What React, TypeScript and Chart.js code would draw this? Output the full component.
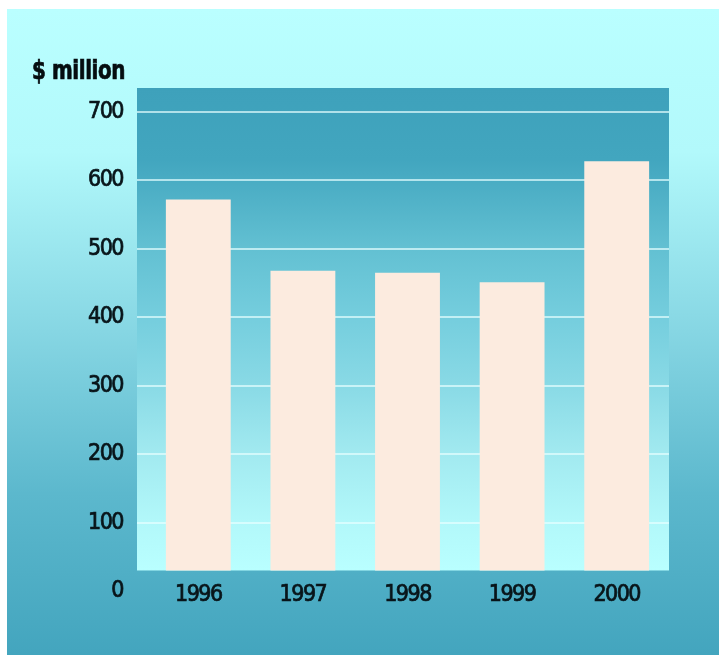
import React, { useEffect, useRef } from 'react';
import { Chart, registerables } from 'chart.js';

Chart.register(...registerables);

const years = ['1996', '1997', '1998', '1999', '2000'];
const revenue = [572, 468, 465, 451, 628];
const yTickValues = [0, 100, 200, 300, 400, 500, 600, 700];
const yMax = 735;
const plotFloor = 30;
const unitLabel = '$ million';

const FONT = '"DejaVu Sans Condensed", "Liberation Sans", sans-serif';
const TEXT = '#081419';

const backdropPlugin = {
  id: 'backdrop',
  beforeDraw(chart: any) {
    const { ctx, width, height, chartArea, scales } = chart;
    const y = scales.y;
    ctx.save();
    const g = ctx.createLinearGradient(0, 0, 0, height);
    g.addColorStop(0, '#baffff');
    g.addColorStop(0.22, '#b2f9fb');
    g.addColorStop(0.5, '#86d6e3');
    g.addColorStop(0.75, '#5cb8cd');
    g.addColorStop(1, '#43a5be');
    ctx.fillStyle = g;
    ctx.fillRect(0, 0, width, height);

    const left = chartArea.left - 9;
    const right = chartArea.right;
    const top = chartArea.top;
    const bottom = y.getPixelForValue(plotFloor);
    const pg = ctx.createLinearGradient(0, top, 0, bottom);
    pg.addColorStop(0, '#3ea1bb');
    pg.addColorStop(0.15, '#42a6bf');
    pg.addColorStop(0.33, '#62c0d2');
    pg.addColorStop(0.47, '#74cddd');
    pg.addColorStop(0.61, '#88d9e5');
    pg.addColorStop(0.76, '#a2eaf0');
    pg.addColorStop(0.9, '#b2f8fa');
    pg.addColorStop(1, '#b9ffff');
    ctx.fillStyle = pg;
    ctx.fillRect(left, top, right - left, bottom - top);

    ctx.strokeStyle = 'rgba(232,255,255,0.68)';
    ctx.lineWidth = 2;
    y.ticks.forEach((t: any) => {
      if (t.value <= plotFloor) return;
      const py = Math.round(y.getPixelForValue(t.value));
      ctx.beginPath();
      ctx.moveTo(left, py);
      ctx.lineTo(right, py);
      ctx.stroke();
    });
    ctx.restore();
    // tighter, condensed-looking tick text for all later label drawing
    (ctx as any).letterSpacing = '-1.5px';
  },
};

export default function App() {
  const ref = useRef<HTMLCanvasElement | null>(null);

  useEffect(() => {
    if (!ref.current) return;
    const chart = new Chart(ref.current, {
      type: 'bar',
      data: {
        labels: years,
        datasets: [
          {
            data: revenue,
            base: plotFloor,
            backgroundColor: '#fcebdf',
            borderWidth: 0,
            barPercentage: 0.62,
            categoryPercentage: 1,
          } as any,
        ],
      },
      options: {
        responsive: false,
        animation: false,
        layout: { padding: { left: 0, right: 50, top: 79, bottom: 64 } },
        plugins: { legend: { display: false }, tooltip: { enabled: false } },
        scales: {
          x: {
            grid: { display: false, drawTicks: false },
            border: { display: false },
            ticks: {
              color: TEXT,
              font: { family: FONT, size: 23 },
              textStrokeColor: TEXT,
              textStrokeWidth: 0.7,
              mirror: true,
              padding: -18,
              z: 1,
            } as any,
            afterFit: (s: any) => {
              s.height = 0;
            },
          },
          y: {
            min: 0,
            max: yMax,
            afterBuildTicks: (s: any) => {
              s.ticks = yTickValues.map((v) => ({ value: v }));
            },
            grid: { display: false, drawTicks: false },
            border: { display: false },
            ticks: {
              color: TEXT,
              font: { family: FONT, size: 23 },
              textStrokeColor: TEXT,
              textStrokeWidth: 0.7,
              padding: 23,
              includeBounds: false,
            } as any,
            afterFit: (s: any) => {
              s.width = 139;
            },
          },
        },
      },
      plugins: [backdropPlugin],
    });
    return () => chart.destroy();
  }, []);

  return (
    <div style={{ position: 'fixed', left: 7, top: 9, width: 712, height: 646 }}>
      <canvas ref={ref} width={712} height={646} style={{ display: 'block', width: 712, height: 646 }} />
      <div
        style={{
          position: 'absolute',
          left: 25,
          top: 47,
          fontFamily: FONT,
          fontWeight: 'bold',
          fontSize: 27,
          lineHeight: '27px',
          color: '#050d10',
          whiteSpace: 'nowrap',
          letterSpacing: -0.5,
          WebkitTextStroke: '0.7px #050d10',
          transform: 'scaleX(0.82)',
          transformOrigin: 'left top',
        } as any}
      >
        {unitLabel}
      </div>
    </div>
  );
}
